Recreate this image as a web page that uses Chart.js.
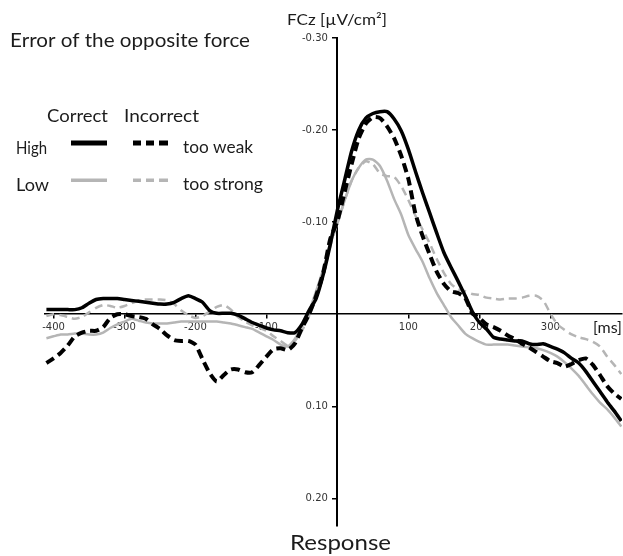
<!DOCTYPE html>
<html><head><meta charset="utf-8">
<script src="https://cdn.jsdelivr.net/npm/chart.js@4.4.0/dist/chart.umd.min.js"></script>
<style>html,body{margin:0;padding:0;background:#fff;overflow:hidden}canvas{display:block}</style>
</head><body>
<canvas id="c" width="623" height="556"></canvas>
<script>
// time points (ms, relative to response)
const times = [-410,-400,-390,-380,-370,-360,-350,-340,-330,-320,-310,-300,-290,-280,-270,-260,-250,-240,-230,-220,-210,-200,-190,-180,-170,-160,-150,-140,-130,-120,-110,-100,-90,-80,-70,-60,-50,-40,-30,-20,-10,0,10,20,30,40,50,60,70,80,90,100,110,120,130,140,150,160,170,180,190,200,210,220,230,240,250,260,270,280,290,300,310,320,330,340,350,360,370,380,390,400];

// FCz amplitude (µV/cm²) — High force, Correct (black solid)
const highCorrect = [-0.005,-0.005,-0.005,-0.005,-0.005,-0.007,-0.012,-0.016,-0.017,-0.017,-0.017,-0.016,-0.015,-0.014,-0.013,-0.012,-0.011,-0.011,-0.013,-0.017,-0.020,-0.017,-0.013,-0.004,-0.001,-0.001,-0.001,0.001,0.005,0.009,0.012,0.015,0.017,0.018,0.020,0.020,0.011,-0.004,-0.017,-0.043,-0.076,-0.113,-0.145,-0.177,-0.200,-0.213,-0.218,-0.220,-0.220,-0.212,-0.199,-0.179,-0.155,-0.132,-0.110,-0.088,-0.067,-0.051,-0.036,-0.020,-0.003,0.009,0.016,0.025,0.027,0.028,0.029,0.029,0.032,0.033,0.032,0.035,0.038,0.042,0.048,0.053,0.062,0.073,0.084,0.095,0.105,0.116];

// High force, Incorrect "too weak" (black dashed)
const highIncorrect = [0.053,0.048,0.042,0.034,0.024,0.020,0.018,0.018,0.014,0.004,0.000,0.000,0.002,0.003,0.005,0.011,0.016,0.023,0.028,0.029,0.029,0.033,0.049,0.064,0.073,0.066,0.060,0.060,0.063,0.063,0.055,0.046,0.038,0.037,0.039,0.032,0.015,0.000,-0.020,-0.045,-0.082,-0.101,-0.132,-0.163,-0.191,-0.207,-0.214,-0.213,-0.204,-0.191,-0.172,-0.147,-0.109,-0.085,-0.065,-0.046,-0.033,-0.025,-0.023,-0.018,-0.001,0.004,0.011,0.014,0.018,0.023,0.027,0.032,0.036,0.041,0.046,0.051,0.053,0.057,0.054,0.050,0.048,0.055,0.066,0.078,0.086,0.092];

// Low force, Correct (grey solid)
const lowCorrect = [0.026,0.024,0.022,0.022,0.021,0.021,0.022,0.022,0.020,0.015,0.011,0.008,0.005,0.007,0.009,0.010,0.010,0.010,0.009,0.008,0.008,0.008,0.008,0.008,0.008,0.009,0.010,0.012,0.014,0.016,0.020,0.024,0.028,0.033,0.035,0.027,0.013,-0.003,-0.025,-0.049,-0.077,-0.099,-0.123,-0.145,-0.159,-0.168,-0.168,-0.161,-0.145,-0.125,-0.108,-0.086,-0.071,-0.057,-0.039,-0.023,-0.010,0.003,0.012,0.021,0.026,0.030,0.033,0.033,0.033,0.033,0.034,0.035,0.036,0.037,0.039,0.042,0.046,0.052,0.059,0.067,0.077,0.087,0.096,0.103,0.112,0.122];

// Low force, Incorrect "too strong" (grey dashed)
const lowIncorrect = [0.002,0.000,0.001,0.003,0.005,0.003,-0.002,-0.007,-0.010,-0.009,-0.007,-0.009,-0.012,-0.015,-0.016,-0.016,-0.016,-0.015,-0.011,-0.004,0.001,0.004,0.002,-0.003,-0.008,-0.010,-0.005,0.003,0.008,0.012,0.015,0.018,0.024,0.029,0.034,0.029,0.018,0.002,-0.017,-0.041,-0.074,-0.099,-0.123,-0.145,-0.159,-0.166,-0.163,-0.153,-0.150,-0.149,-0.139,-0.124,-0.107,-0.092,-0.077,-0.060,-0.045,-0.033,-0.027,-0.025,-0.022,-0.021,-0.018,-0.017,-0.016,-0.017,-0.017,-0.018,-0.020,-0.020,-0.015,-0.001,0.011,0.017,0.022,0.025,0.027,0.030,0.035,0.046,0.055,0.065];

const xTickValues = [-400,-300,-200,-100,100,200,300];
const yTickValues = [-0.30,-0.20,-0.10,0.10,0.20];

const BLACK = '#000000';
const GREY = '#b5b5b5';
const TEXT = '#1c1c1c';
const FONT = 'Lato, "Open Sans", sans-serif';

function pts(vals){ return times.map((t,i)=>({x:t,y:vals[i]})); }

function fitText(ctx, text, x, baseline, size, width, color){
  ctx.save();
  ctx.font = size + 'px ' + FONT;
  ctx.fillStyle = color || TEXT;
  ctx.textAlign = 'left';
  ctx.textBaseline = 'alphabetic';
  const w = ctx.measureText(text).width;
  ctx.translate(x, baseline);
  ctx.scale(width / w, 1);
  ctx.fillText(text, 0, 0);
  ctx.restore();
}

const annotations = {
  id: 'annotations',
  afterDraw(chart){
    const ctx = chart.ctx;
    fitText(ctx, 'FCz [\u00b5V/cm\u00b2]', 287, 25, 15, 100);
    fitText(ctx, 'Error of the opposite force', 10, 47, 19, 240);
    fitText(ctx, 'Correct', 47, 122, 18, 61);
    fitText(ctx, 'Incorrect', 124, 122, 18, 75);
    fitText(ctx, 'High', 16, 154, 18, 31);
    fitText(ctx, 'Low', 16, 191, 18, 33);
    fitText(ctx, 'too weak', 183, 153, 18, 70);
    fitText(ctx, 'too strong', 183, 190, 18, 80);
    fitText(ctx, '[ms]', 593, 333, 15, 29);
    fitText(ctx, 'Response', 290, 550, 22, 101);
    // legend samples
    ctx.save();
    ctx.fillStyle = BLACK;
    ctx.fillRect(71, 140.5, 36, 5);
    [[133,141],[146,154],[159,168]].forEach(d=>ctx.fillRect(d[0],140.5,d[1]-d[0],5));
    ctx.fillStyle = GREY;
    ctx.fillRect(71, 178.5, 36, 3.5);
    [[133,141],[146,154],[159,168]].forEach(d=>ctx.fillRect(d[0],178.5,d[1]-d[0],3.5));
    ctx.restore();
  }
};

new Chart(document.getElementById('c'), {
  type: 'line',
  data: {
    datasets: [
      {label:'High correct', data: pts(highCorrect), borderColor: BLACK, borderWidth: 3.5},
      {label:'High incorrect (too weak)', data: pts(highIncorrect), borderColor: BLACK, borderWidth: 4, borderDash:[9,5]},
      {label:'Low correct', data: pts(lowCorrect), borderColor: GREY, borderWidth: 2.5},
      {label:'Low incorrect (too strong)', data: pts(lowIncorrect), borderColor: GREY, borderWidth: 2.5, borderDash:[8,5]}
    ]
  },
  options: {
    responsive: false,
    devicePixelRatio: 1,
    animation: false,
    layout: {padding: {left: 45, right: 1, top: 38, bottom: 30}},
    elements: {point: {radius: 0}, line: {tension: 0.2, borderJoinStyle: 'round', borderCapStyle: 'butt', fill: false}},
    plugins: {legend: {display: false}, tooltip: {enabled: false}},
    scales: {
      x: {
        type: 'linear', position: {y: 0}, min: -412, max: 401,
        afterBuildTicks: s => { s.ticks = xTickValues.map(v => ({value: v})); },
        ticks: {font: {family: '"DejaVu Sans"', size: 10}, color: '#333', padding: 3, maxRotation: 0, autoSkip: false, callback: v => String(v)},
        grid: {drawOnChartArea: false, drawTicks: true, tickLength: 4, color: '#000', lineWidth: 1.5},
        border: {display: true, color: '#000', width: 1.5}
      },
      y: {
        type: 'linear', position: {x: 0}, reverse: true, min: -0.30, max: 0.23,
        afterBuildTicks: s => { s.ticks = yTickValues.map(v => ({value: v})); },
        ticks: {font: {family: '"DejaVu Sans"', size: 10}, color: '#333', padding: 2, autoSkip: false, callback: v => v.toFixed(2) + '   '},
        grid: {drawOnChartArea: false, drawTicks: true, tickLength: 4, color: '#000', lineWidth: 1.5},
        border: {display: true, color: '#000', width: 2}
      }
    }
  },
  plugins: [annotations]
});
</script>
</body></html>
